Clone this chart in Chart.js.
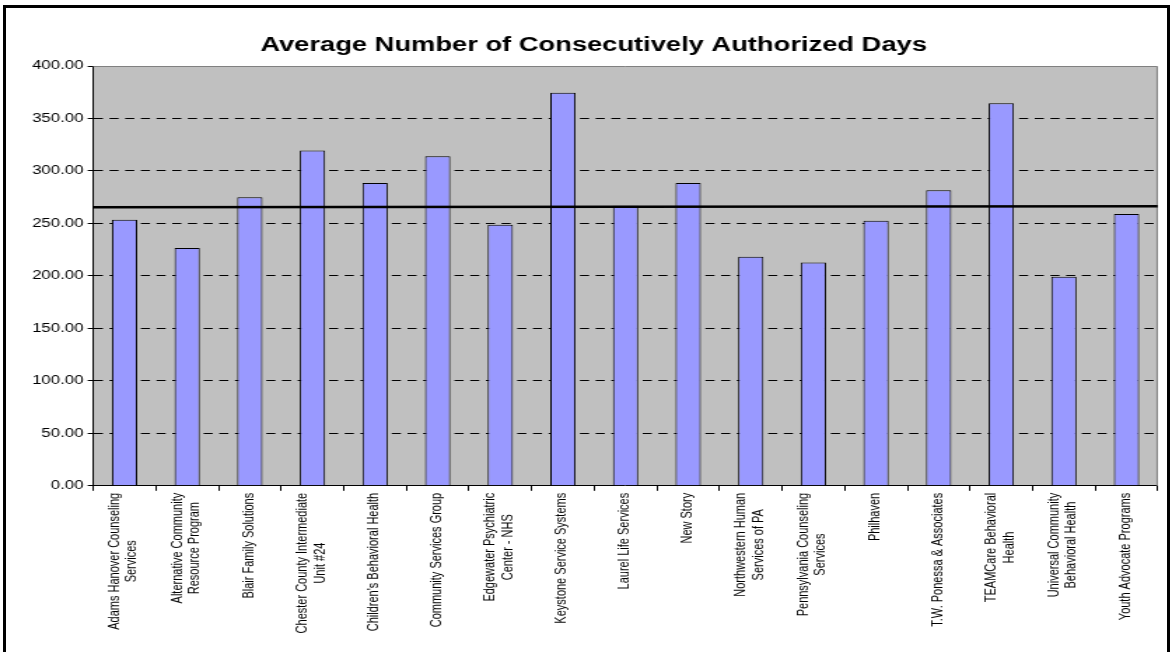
<!DOCTYPE html>
<html>
<head>
<meta charset="utf-8">
<script src="https://cdn.jsdelivr.net/npm/chart.js@4"></script>
<style>
    html, body { margin: 0; padding: 0; background: #fff; overflow: hidden; }
    /* the original picture is an Excel chart stretched sideways, so draw narrow and scale it out */
    #wrap { position: absolute; left: 0; top: 0; width: 837px; height: 652px; transform: scaleX(1.4002); transform-origin: 0 0; }
    #frame { position: absolute; left: 3px; top: 5px; width: 1167px; height: 800px; border: 3px solid #000; box-sizing: border-box; pointer-events: none; }
</style>
</head>
<body>
<div id="wrap"><canvas id="avgDaysChart" width="837" height="652"></canvas></div>
<div id="frame"></div>
<script>
const providers = [
    ["Adams Hanover Counseling", "Services"],
    ["Alternative Community", "Resource Program"],
    ["Blair Family Solutions"],
    ["Chester County Intermediate", "Unit #24"],
    ["Children's Behavioral Health"],
    ["Community Services Group"],
    ["Edgewater Psychiatric", "Center - NHS"],
    ["Keystone Service Systems"],
    ["Laurel Life Services"],
    ["New Story"],
    ["Northwestern Human", "Services of PA"],
    ["Pennsylvania Counseling", "Services"],
    ["Philhaven"],
    ["T.W. Ponessa & Associates"],
    ["TEAMCare Behavioral", "Health"],
    ["Universal Community", "Behavioral Health"],
    ["Youth Advocate Programs"]
];
const avgDays = [253.4, 226.5, 275.0, 319.5, 288.4, 314.1, 248.7, 374.4, 266.8, 288.4, 218.2, 212.8, 252.5, 281.7, 364.6, 199.1, 258.9];
const overallAvg = [265.5, 266.3]; // left end, right end of the black line
const yTickValues = [0, 50, 100, 150, 200, 250, 300, 350, 400];

const FONT = '"Liberation Sans", Arial, sans-serif';

const plotFrame = {
    id: 'plotFrame',
    beforeDraw(chart) {
        const { ctx, chartArea: a } = chart;
        ctx.save();
        ctx.fillStyle = '#C0C0C0';
        ctx.fillRect(a.left, a.top, a.right - a.left, a.bottom - a.top);
        ctx.restore();
    },
    beforeDatasetsDraw(chart) {
        const { ctx, chartArea: a } = chart;
        ctx.save();
        ctx.strokeStyle = '#808080';
        ctx.lineWidth = 1;
        ctx.beginPath();
        ctx.moveTo(a.left, a.top + 0.5);
        ctx.lineTo(a.right - 0.5, a.top + 0.5);
        ctx.lineTo(a.right - 0.5, a.bottom);
        ctx.stroke();
        ctx.restore();
    }
};

// Excel centres each wrapped line inside the rotated block, so draw the labels here
const providerLabels = {
    id: 'providerLabels',
    afterDraw(chart) {
        const { ctx } = chart;
        const x = chart.scales.x;
        ctx.save();
        ctx.font = '11px ' + FONT;
        ctx.fillStyle = '#000';
        ctx.textAlign = 'center';
        ctx.textBaseline = 'middle';
        providers.forEach((lines, i) => {
            const cx = x.getPixelForTick(i);
            const longest = Math.max(...lines.map(l => ctx.measureText(l).width));
            const cy = x.top + 7 + longest / 2;
            lines.forEach((line, j) => {
                ctx.save();
                ctx.translate(cx + (j - (lines.length - 1) / 2) * 12.6 - 0.8, cy);
                ctx.rotate(-Math.PI / 2);
                ctx.fillText(line, 0, 0);
                ctx.restore();
            });
        });
        ctx.restore();
    }
};

new Chart(document.getElementById('avgDaysChart'), {
    type: 'bar',
    data: {
        labels: providers.map(l => l.join(' ')),
        datasets: [
            {
                type: 'line',
                label: 'Overall Average',
                xAxisID: 'x2',
                data: [{ x: 0, y: overallAvg[0] }, { x: 1, y: overallAvg[1] }],
                borderColor: '#000',
                borderWidth: 2.5,
                pointRadius: 0,
                order: 0
            },
            {
                label: 'Average Number of Consecutively Authorized Days',
                data: avgDays,
                backgroundColor: '#9999FF',
                borderColor: '#000',
                borderWidth: 1,
                grouped: false,
                categoryPercentage: 1,
                barPercentage: 0.404,
                order: 1
            }
        ]
    },
    options: {
        responsive: false,
        animation: false,
        layout: { padding: { left: 21, right: 10.1, top: 4, bottom: 0 } },
        plugins: {
            legend: { display: false },
            tooltip: { enabled: false },
            title: {
                display: true,
                text: 'Average Number of Consecutively Authorized Days',
                color: '#000',
                font: { family: FONT, size: 19.5, weight: 'bold', lineHeight: 1.2 },
                padding: { top: 29.8, bottom: 8.8 }
            }
        },
        scales: {
            x: {
                grid: { display: true, drawOnChartArea: false, drawTicks: true, tickLength: 5, color: '#000', tickColor: '#000', offset: true },
                border: { display: true, color: '#000', width: 1 },
                ticks: { display: false },
                afterFit(scale) { scale.height = 166.2; }
            },
            x2: { type: 'linear', display: false, offset: false, min: 0, max: 1 },
            y: {
                min: 0,
                max: 400,
                afterBuildTicks(scale) { scale.ticks = yTickValues.map(v => ({ value: v })); },
                grid: {
                    color: c => (c.tick && c.tick.value === 400) ? 'rgba(0,0,0,0)' : '#000',
                    lineWidth: 1,
                    tickLength: 4,
                    tickColor: '#000',
                    tickBorderDash: []
                },
                border: { display: true, color: '#000', width: 1, dash: [6.5, 4.7] },
                ticks: {
                    color: '#000',
                    padding: 3,
                    font: { family: FONT, size: 12 },
                    callback: v => Number(v).toFixed(2)
                },
                afterFit(scale) { scale.width = 45.6; }
            }
        }
    },
    plugins: [plotFrame, providerLabels]
});
</script>
</body>
</html>
